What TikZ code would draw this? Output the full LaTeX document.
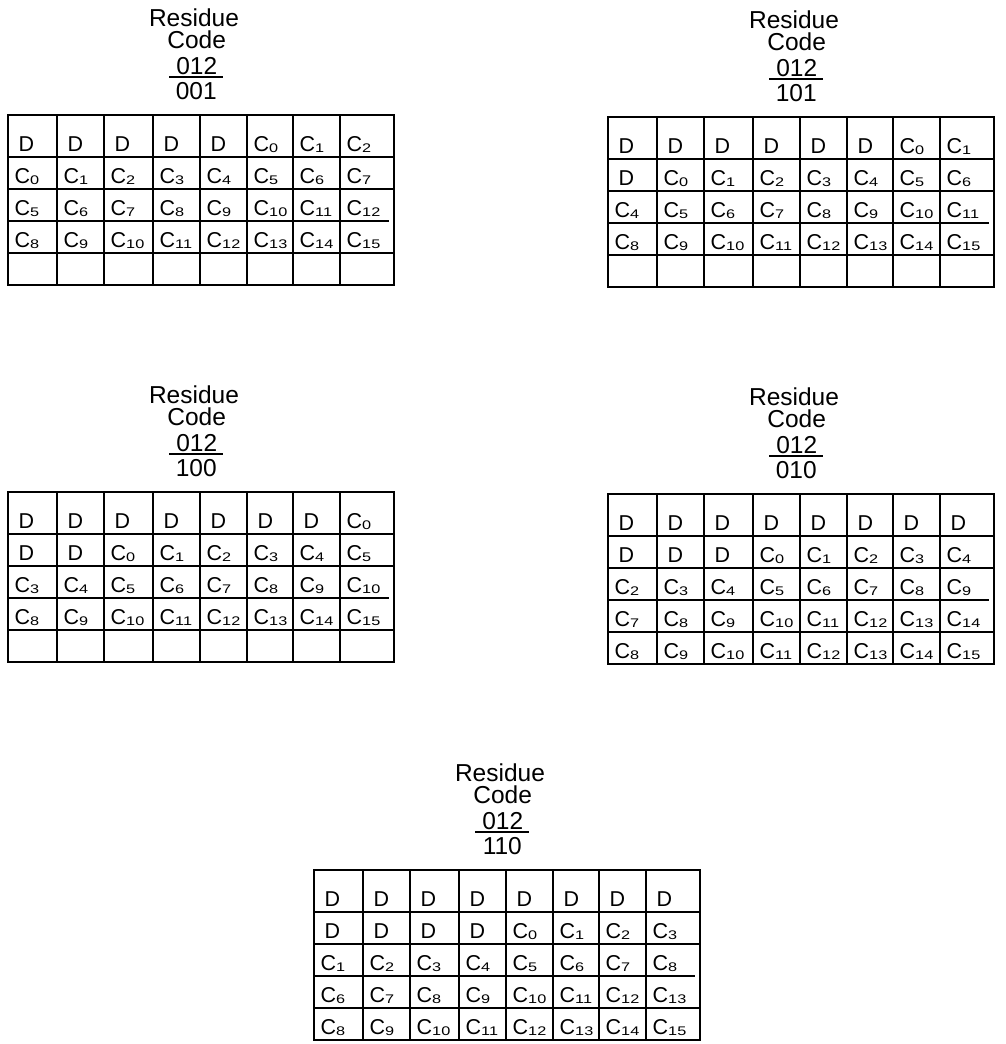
\documentclass[tikz,border=0pt]{standalone}
\usepackage{fontspec}
\setmainfont{Liberation Sans}
\usepackage{graphicx}

% check symbol with a small, wide index
\newcommand{\Cx}[1]{C\raisebox{-0.8pt}{\scalebox{1.3}[1]{\fontsize{12.5}{12.5}\selectfont #1}}}
\newcommand{\cellx}[1]{\if D#1\kern4pt D\else\Cx{#1}\fi}

% one table: name, x, y, residue code, rows
\newcommand{\restable}[5]{%
  \begin{scope}[shift={(#2,#3)}]
    \node[restitle] (#1-res) at (186,-89) {Residue};
    \node[restitle] (#1-code) at (188.7,-67) {Code};
    \node[restitle] (#1-top) at (188.7,-41) {012};
    \node[restitle] (#1-bot) at (188.3,-16) {#4};
    \draw[tabline] (161,-38) -- (215,-38);
    \draw[tabline] (0,0) rectangle (386,170);
    \foreach \x in {49,96,145,192,239,285,332}
      \draw[tabline] (\x,0) -- (\x,170);
    \foreach \y in {42,74,138}
      \draw[tabline] (0,\y) -- (386,\y);
    \draw[tabline] (0,106) -- (381,106);
    \foreach \row [count=\r] in {#5} {
      \foreach \ent [count=\c] in \row {
        \pgfmathsetmacro{\cx}{{0,49,96,145,192,239,285,332}[\c-1]+6.5}
        \pgfmathsetmacro{\ry}{{42,74,106,138,170}[\r-1]-5.5}
        \node[rescell] (#1-\r-\c) at (\cx,\ry) {\cellx{\ent}};
      }
    }
  \end{scope}}

\begin{document}
\begin{tikzpicture}[x=1pt,y=-1pt,
    restitle/.style={anchor=base,inner sep=0pt,font=\fontsize{24.5}{26}\selectfont},
    rescell/.style={anchor=base west,inner sep=0pt,font=\fontsize{21.5}{23}\selectfont},
    tabline/.style={black,line width=2pt}]
  \useasboundingbox (0,0) rectangle (1005,1044);

  \restable{ta}{8}{115}{001}{{D,D,D,D,D,0,1,2},{0,1,2,3,4,5,6,7},
    {5,6,7,8,9,10,11,12},{8,9,10,11,12,13,14,15}}
  \restable{tb}{608}{117}{101}{{D,D,D,D,D,D,0,1},{D,0,1,2,3,4,5,6},
    {4,5,6,7,8,9,10,11},{8,9,10,11,12,13,14,15}}
  \restable{tc}{8}{492}{100}{{D,D,D,D,D,D,D,0},{D,D,0,1,2,3,4,5},
    {3,4,5,6,7,8,9,10},{8,9,10,11,12,13,14,15}}
  \restable{td}{608}{494}{010}{{D,D,D,D,D,D,D,D},{D,D,D,0,1,2,3,4},
    {2,3,4,5,6,7,8,9},{7,8,9,10,11,12,13,14},{8,9,10,11,12,13,14,15}}
  \restable{te}{314}{870}{110}{{D,D,D,D,D,D,D,D},{D,D,D,D,0,1,2,3},
    {1,2,3,4,5,6,7,8},{6,7,8,9,10,11,12,13},{8,9,10,11,12,13,14,15}}
\end{tikzpicture}
\end{document}
